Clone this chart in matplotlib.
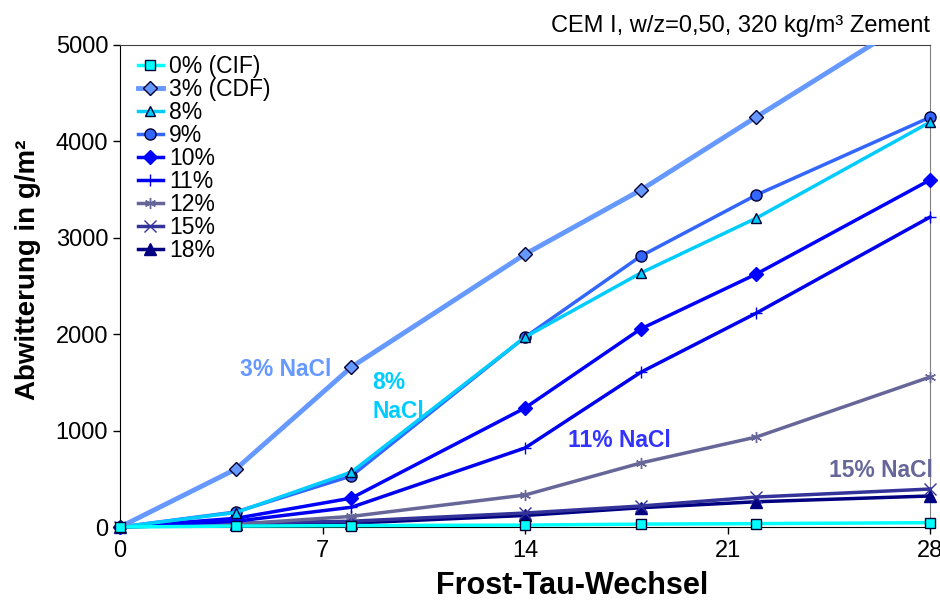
import matplotlib
matplotlib.use("Agg")
import matplotlib.pyplot as plt

plt.rcParams["font.family"] = ["Liberation Sans", "DejaVu Sans"]

zyklen = [0, 4, 8, 14, 18, 22, 28]

labels = ["0% (CIF)", "3% (CDF)", "8%", "9%", "10%", "11%", "12%", "15%", "18%"]
werte = {
    "0% (CIF)": [0, 10, 15, 20, 30, 35, 45],
    "3% (CDF)": [0, 600, 1660, 2830, 3495, 4255, 5380],
    "8%": [0, 150, 570, 1970, 2635, 3205, 4200],
    "9%": [0, 156, 530, 1970, 2810, 3445, 4250],
    "10%": [0, 90, 300, 1235, 2055, 2625, 3600],
    "11%": [0, 60, 205, 820, 1605, 2220, 3215],
    "12%": [0, 30, 110, 332, 664, 934, 1556],
    "15%": [0, 40, 60, 145, 218, 311, 394],
    "18%": [0, 30, 40, 120, 200, 262, 322],
}

farben = ["#00FFFF", "#6699FF", "#00CCFF", "#3366FF", "#0000FF", "#0000EE",
          "#666699", "#333399", "#000080"]
marker = ["s", "D", "^", "o", "D", "+", (6, 2, 0), "x", "^"]
msize = [7, 7, 7, 8, 7, 9, 8, 9, 8]
lw = [2.5, 3.5, 2.5, 2.5, 2.5, 2.5, 2.5, 2.5, 2.5]

fig = plt.figure(figsize=(9.4, 6.08), dpi=100)
ax = fig.add_axes([0.1277, 0.1332, 0.8617, 0.7928])

for i, lab in enumerate(labels):
    m = marker[i]
    gefuellt = m in ("s", "D", "^", "o")
    face = farben[i]
    edge = "#000033" if gefuellt else farben[i]
    if lab in ("10%", "18%"):
        edge = farben[i]
    ax.plot(zyklen, werte[lab], color=farben[i], lw=lw[i], marker=m,
            markersize=msize[i], markerfacecolor=face, markeredgecolor=edge,
            markeredgewidth=1.0, label=lab, clip_on=(lab == "3% (CDF)"),
            zorder=3 + (9 - i) * 0.01)

ax.set_xlim(0, 28)
ax.set_ylim(0, 5000)
ax.set_xticks([0, 7, 14, 21, 28])
ax.set_yticks([0, 1000, 2000, 3000, 4000, 5000])
ax.tick_params(labelsize=17, direction="out", length=5, width=1)
ax.tick_params(axis="x", pad=4)
ax.spines["top"].set_color("#404040")
ax.spines["right"].set_color("#808080")

ax.set_xlabel("Frost-Tau-Wechsel", fontsize=22, fontweight="bold")
ax.xaxis.set_label_coords(0.558, -0.092)
ax.set_ylabel("Abwitterung in g/m²", fontsize=20, fontweight="bold")
ax.yaxis.set_label_coords(-0.097, 0.533)

fig.text(0.989, 0.958, "CEM I, w/z=0,50, 320 kg/m³ Zement", fontsize=17,
         ha="right", va="center")

ax.text(5.74, 1630, "3% NaCl", color="#6699FF", fontsize=16.5, fontweight="bold",
        ha="center", va="center")
ax.text(8.71, 1350, "8%\nNaCl", color="#00CCFF", fontsize=16.5, fontweight="bold",
        ha="left", va="center", linespacing=1.35)
ax.text(17.25, 902, "11% NaCl", color="#3333FF", fontsize=16.5, fontweight="bold",
        ha="center", va="center")
ax.text(26.3, 591, "15% NaCl", color="#666699", fontsize=16.5, fontweight="bold",
        ha="center", va="center")

ax.legend(loc="upper left", bbox_to_anchor=(0.005, 1.008), frameon=False,
          fontsize=16.5, handlelength=1.1, handletextpad=0.25, labelspacing=0.0,
          borderaxespad=0.2)

fig.savefig("out.png", dpi=100)
plt.close(fig)
